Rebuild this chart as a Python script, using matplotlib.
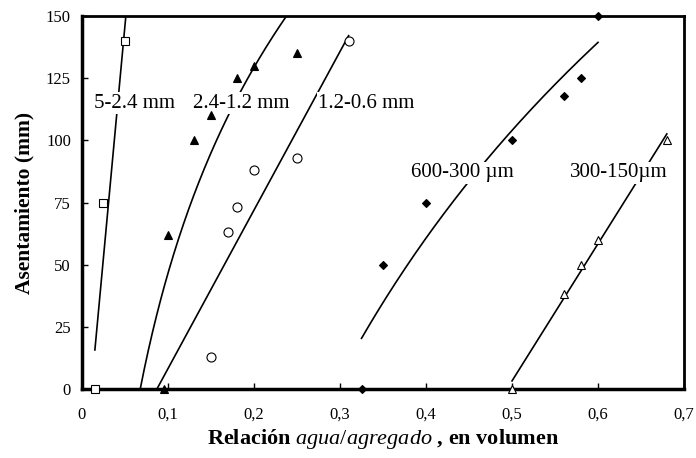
import numpy as np
import matplotlib
matplotlib.use("Agg")
import matplotlib.pyplot as plt

plt.rcParams['font.family'] = ['Liberation Serif', 'DejaVu Serif']
plt.rcParams['mathtext.fontset'] = 'custom'
plt.rcParams['mathtext.rm'] = 'Liberation Serif'
plt.rcParams['mathtext.it'] = 'Liberation Serif:italic'
plt.rcParams['mathtext.bf'] = 'Liberation Serif:bold'

# datos (relacion agua/agregado, asentamiento mm)
X_5_24 = [0.015, 0.025, 0.05]
Y_5_24 = [0, 75, 140]
X_24_12 = [0.095, 0.10, 0.13, 0.15, 0.18, 0.20, 0.25]
Y_24_12 = [0, 62, 100, 110, 125, 130, 135]
X_12_06 = [0.15, 0.17, 0.18, 0.20, 0.25, 0.31]
Y_12_06 = [13, 63, 73, 88, 93, 140]
X_600_300 = [0.325, 0.35, 0.40, 0.50, 0.56, 0.58, 0.60]
Y_600_300 = [0, 50, 75, 100, 118, 125, 150]
X_300_150 = [0.50, 0.56, 0.58, 0.60, 0.68]
Y_300_150 = [0, 38, 50, 60, 100]

ETIQUETAS = ["5-2.4 mm", "2.4-1.2 mm", "1.2-0.6 mm", "600-300 µm", "300-150µm"]
POS_ETIQ = [(0.0616, 115), (0.185, 115), (0.331, 115), (0.442, 87), (0.624, 87)]

# (x, y, marcador, relleno, tipo de ajuste, rango de la linea de tendencia)
series = [
    (X_5_24, Y_5_24, 's', 'white', 'lin', (0.015, 0.06), 6),
    (X_24_12, Y_24_12, '^', 'black', 'log', (0.06, 0.25), 6),
    (X_12_06, Y_12_06, 'o', 'white', 'lin', (0.08, 0.31), 6.5),
    (X_600_300, Y_600_300, 'D', 'black', 'log', (0.325, 0.60), 4),
    (X_300_150, Y_300_150, '^', 'white', 'lin', (0.50, 0.68), 5.5),
]

fig = plt.figure(figsize=(6.96, 4.58), dpi=100)
ax = fig.add_axes([0.1178, 0.1507, 0.865, 0.8143])

for xs, ys, mk, fc, tipo, rng, ms in series:
    xs = np.array(xs)
    ys = np.array(ys)
    xx = np.linspace(rng[0], rng[1], 200)
    if tipo == 'lin':
        c = np.polyfit(xs, ys, 1)
        yy = np.polyval(c, xx)
    else:
        c = np.polyfit(np.log(xs), ys, 1)
        yy = np.polyval(c, np.log(xx))
    ax.plot(xx, yy, color='black', lw=1.2, zorder=2)
    ax.plot(xs, ys, linestyle='none', marker=mk, markersize=ms,
            markerfacecolor=fc, markeredgecolor='black', markeredgewidth=0.8,
            zorder=4, clip_on=False)

for txt, (tx, ty) in zip(ETIQUETAS, POS_ETIQ):
    ax.text(tx, ty, txt, fontsize=15, ha='center', va='center', zorder=3,
            bbox=dict(facecolor='white', edgecolor='none', pad=1))

ax.set_xlim(0, 0.7)
ax.set_ylim(0, 150)
ax.set_xticks(np.arange(0, 0.71, 0.1))
ax.set_xticklabels(["0", "0,1", "0,2", "0,3", "0,4", "0,5", "0,6", "0,7"])
ax.set_yticks(np.arange(0, 151, 25))
ax.tick_params(direction='in', length=4, width=1, labelsize=12, pad=8)
ax.tick_params(axis='x', pad=13)

ax.spines['left'].set_linewidth(2.5)
ax.spines['bottom'].set_linewidth(2.5)
ax.spines['top'].set_linewidth(2)
ax.spines['right'].set_linewidth(2)

ax.set_ylabel("Asentamiento (mm)", fontsize=15.5, fontweight='bold', labelpad=8)
ax.set_xlabel(r"Relación $\mathit{agua/agregado}$ , en volumen", fontsize=16,
              fontweight='bold', labelpad=3)

plt.savefig("out.png", dpi=100)
